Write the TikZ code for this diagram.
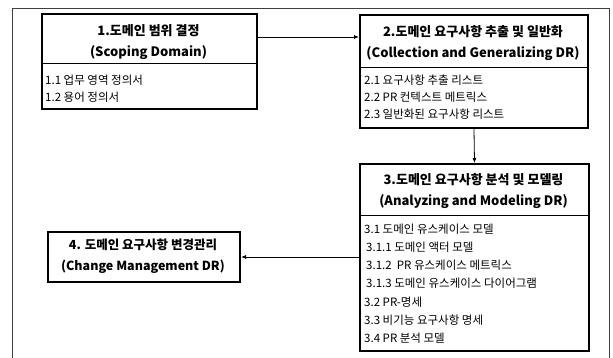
\documentclass[tikz,border=0pt]{standalone}
\usepackage{fontspec}
\setmainfont{Noto Sans CJK KR}
\usetikzlibrary{arrows.meta,positioning}

\tikzset{
  boxframe/.style={draw, line width=2pt, rectangle, inner sep=0pt, anchor=north west},
  titletext/.style={align=center, font=\fontsize{13}{21}\selectfont\bfseries, inner sep=0pt},
  listtext/.style={align=left, anchor=west, font=\fontsize{11.5}{17}\selectfont, inner sep=0pt},
  divider/.style={line width=0.8pt},
  link/.style={line width=0.8pt, -{Latex[length=5pt,width=4pt]}},
  frameline/.style={line width=0.7pt, black!75}
}

\begin{document}
\begin{tikzpicture}[x=1pt,y=-1pt]
  \useasboundingbox (0,0) rectangle (613,358);

  % Drawing outer frame
  \draw [frameline] (12,358) -- (12,8) -- (609,8) -- (609,358);

  % Drawing box 1 (scoping domain)
  \node [boxframe, minimum width=215pt, minimum height=95pt] (b1) at (41,13) {};
  \node [titletext] (b1t) at (148.5,42.5) {1.도메인 범위 결정\\(Scoping Domain)};
  \draw [divider] ([yshift=-50pt]b1.north west) -- ([yshift=-50pt]b1.north east);
  \node [listtext] (b1l) at (45,88.5) {1.1 업무 영역 정의서\\1.2 용어 정의서};

  % Drawing box 2 (collection and generalizing)
  \node [boxframe, minimum width=228pt, minimum height=113pt] (b2) at (359,14) {};
  \node [titletext] (b2t) at (473,43.5) {2.도메인 요구사항 추출 및 일반화\\(Collection and Generalizing DR)};
  \draw [divider] ([yshift=-53pt]b2.north west) -- ([yshift=-53pt]b2.north east);
  \node [listtext] (b2l) at (364,97.5) {2.1 요구사항 추출 리스트\\2.2 PR 컨텍스트 메트릭스\\2.3 일반화된 요구사항 리스트};

  % Drawing box 3 (analyzing and modeling)
  \node [boxframe, minimum width=229pt, minimum height=187pt] (b3) at (359,163) {};
  \node [titletext] (b3t) at (473.5,191.5) {3.도메인 요구사항 분석 및 모델링\\(Analyzing and Modeling DR)};
  \draw [divider] ([yshift=-52pt]b3.north west) -- ([yshift=-52pt]b3.north east);
  \node [listtext, font=\fontsize{11.5}{18.2}\selectfont] (b3l) at (364,283.5) {3.1 도메인 유스케이스 모델\\
    \hspace{2pt}3.1.1 도메인 액터 모델\\
    \hspace{2pt}3.1.2 \ PR 유스케이스 메트릭스\\
    \hspace{2pt}3.1.3 도메인 유스케이스 다이어그램\\
    3.2 PR-명세\\
    3.3 비기능 요구사항 명세\\
    3.4 PR 분석 모델};

  % Drawing box 4 (change management)
  \node [boxframe, minimum width=192pt, minimum height=50pt] (b4) at (47,231) {};
  \node [titletext, font=\fontsize{12.5}{21}\selectfont\bfseries] (b4t) at (143,256) {4. 도메인 요구사항 변경관리\\(Change Management DR)};

  % Drawing connectors
  \draw [link] ([yshift=-24pt]b1.north east) -- ([yshift=-24pt]b1.north east -| b2.west);
  \draw [link] (b2.south) -- (b3.north);
  \draw [link] (b3.west |- b4.east) -- (b4.east);
\end{tikzpicture}
\end{document}
